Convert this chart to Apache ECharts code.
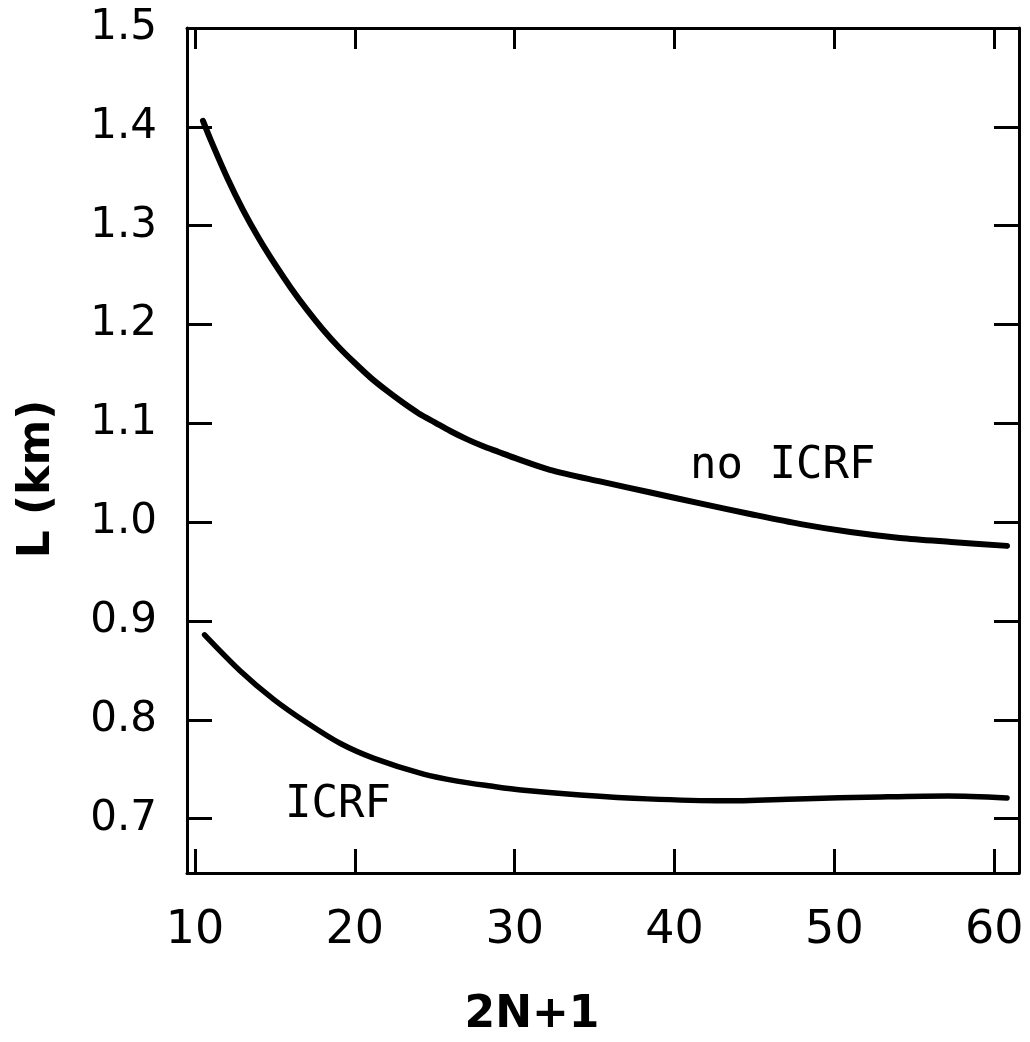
<!DOCTYPE html>
<html>
<head>
<meta charset="utf-8">
<script src="https://cdn.jsdelivr.net/npm/echarts@6/dist/echarts.min.js"></script>
<style>
  html, body { margin: 0; padding: 0; background: #fff; }
  #chart { width: 1030px; height: 1042px; }
</style>
</head>
<body>
<div id="chart"></div>
<script>
// ---- data ----
const noIcrfX = [10.5, 11, 12, 13, 14, 15, 16, 17, 18, 19, 20, 21, 22, 23, 24, 25, 26, 27, 28, 29, 30, 32.2, 35.4, 38.5, 41.6, 44.8, 47.9, 51.0, 54.1, 57.3, 60.8];
const noIcrfY = [1.406, 1.386, 1.349, 1.316, 1.287, 1.261, 1.237, 1.215, 1.195, 1.177, 1.161, 1.146, 1.133, 1.121, 1.110, 1.101, 1.092, 1.084, 1.077, 1.071, 1.065, 1.053, 1.041, 1.030, 1.019, 1.008, 0.998, 0.990, 0.984, 0.980, 0.976];
const icrfX = [10.6, 12.8, 14.9, 17.0, 19.1, 21.2, 24.3, 26.4, 28.5, 30.4, 34.1, 38.3, 43.1, 47.7, 52.9, 57.1, 60.8];
const icrfY = [0.886, 0.850, 0.821, 0.797, 0.776, 0.761, 0.745, 0.738, 0.733, 0.729, 0.724, 0.720, 0.718, 0.720, 0.722, 0.723, 0.721];
const xTicks = [10, 20, 30, 40, 50, 60];
const yTicks = [0.7, 0.8, 0.9, 1.0, 1.1, 1.2, 1.3, 1.4, 1.5];
const xName = '2N+1';
const yName = 'L (km)';
const seriesNames = ['no ICRF', 'ICRF'];

const zip = (xs, ys) => xs.map((x, i) => [x, ys[i]]);

const chart = echarts.init(document.getElementById('chart'), null, { renderer: 'canvas' });

const lineAxis = { show: true, lineStyle: { color: '#000', width: 3 } };
const tickStyle = { lineStyle: { color: '#000', width: 3 } };

const option = {
  backgroundColor: '#fff',
  animation: false,
  grid: { left: 187, right: 11, top: 28, bottom: 169, containLabel: false },
  xAxis: [
    {
      type: 'value', position: 'bottom', min: 9.5, max: 61.55,
      axisLine: lineAxis,
      axisTick: Object.assign({ show: true, inside: true, length: 24, customValues: xTicks }, tickStyle),
      axisLabel: { show: true, customValues: xTicks, fontSize: 46, fontFamily: 'DejaVu Sans', color: '#000', margin: 35 },
      splitLine: { show: false }
    },
    {
      type: 'value', position: 'top', min: 9.5, max: 61.55,
      axisLine: lineAxis,
      axisTick: Object.assign({ show: true, inside: true, length: 21, customValues: xTicks }, tickStyle),
      axisLabel: { show: false },
      splitLine: { show: false }
    }
  ],
  yAxis: [
    {
      type: 'value', position: 'left', min: 0.645, max: 1.5,
      axisLine: lineAxis,
      axisTick: Object.assign({ show: true, inside: true, length: 25, customValues: yTicks }, tickStyle),
      axisLabel: { show: true, customValues: yTicks, fontSize: 42, fontFamily: 'DejaVu Sans', color: '#000', margin: 30,
        formatter: v => Number(v).toFixed(1) },
      splitLine: { show: false }
    },
    {
      type: 'value', position: 'right', min: 0.645, max: 1.5,
      axisLine: lineAxis,
      axisTick: Object.assign({ show: true, inside: true, length: 25, customValues: yTicks }, tickStyle),
      axisLabel: { show: false },
      splitLine: { show: false }
    }
  ],
  series: [
    {
      name: seriesNames[0], type: 'line', xAxisIndex: 0, yAxisIndex: 0,
      data: zip(noIcrfX, noIcrfY), showSymbol: false, smooth: 0.3,
      lineStyle: { color: '#000', width: 6, cap: 'round', join: 'round' }
    },
    {
      name: seriesNames[1], type: 'line', xAxisIndex: 0, yAxisIndex: 0,
      data: zip(icrfX, icrfY), showSymbol: false, smooth: 0.3,
      lineStyle: { color: '#000', width: 5.5, cap: 'round', join: 'round' }
    }
  ],
  graphic: [
    { type: 'text', left: 690, top: 445,
      style: { text: seriesNames[0], font: '44px "DejaVu Sans Mono"', fill: '#000' } },
    { type: 'text', left: 285, top: 784,
      style: { text: seriesNames[1], font: '44px "DejaVu Sans Mono"', fill: '#000' } },
    { type: 'text', x: 532, y: 1016,
      style: { text: xName, font: 'bold 44px "DejaVu Sans"', fill: '#000', align: 'center', verticalAlign: 'middle' } },
    { type: 'text', x: 38, y: 479, rotation: Math.PI / 2,
      style: { text: yName, font: 'bold 44px "DejaVu Sans"', fill: '#000', align: 'center', verticalAlign: 'middle' } }
  ]
};

chart.setOption(option);
</script>
</body>
</html>
